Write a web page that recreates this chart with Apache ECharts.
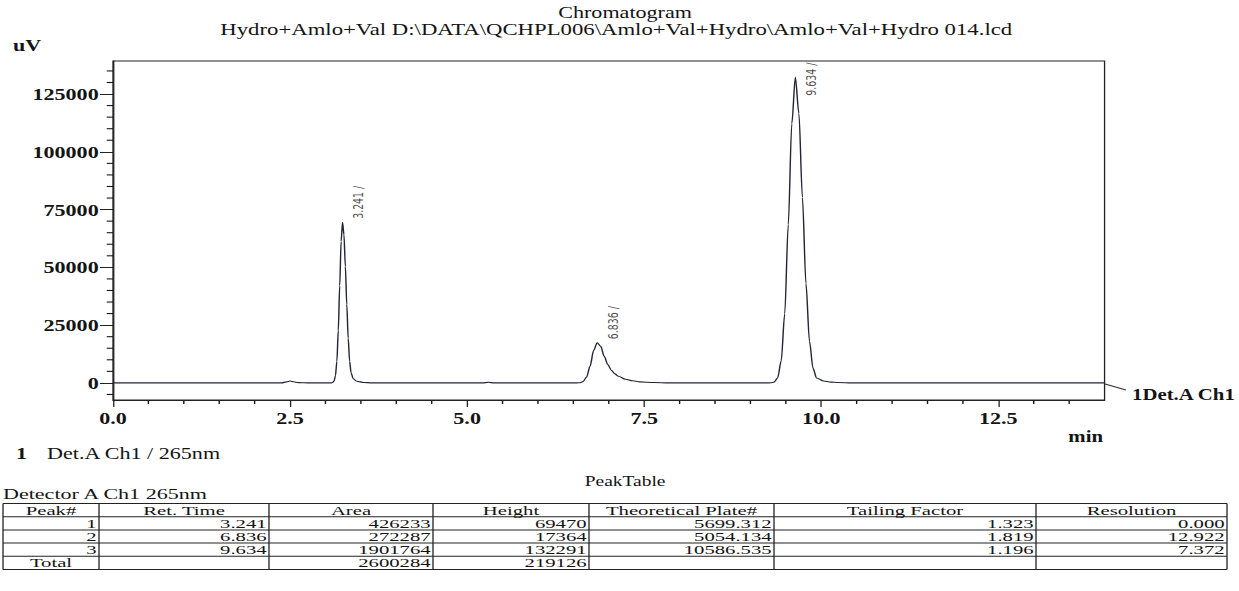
<!DOCTYPE html>
<html><head><meta charset="utf-8">
<script src="https://cdn.jsdelivr.net/npm/echarts@6/dist/echarts.min.js"></script>
<style>
html,body{margin:0;padding:0;background:#fff;overflow:hidden;width:1239px;height:591px;}
#chart{width:953px;height:591px;transform-origin:0 0;transform:scaleX(1.300105);}
</style></head><body><div id="chart"></div>
<script>
// ---------- texts ----------
const titleText = 'Chromatogram';
const subtitleText = 'Hydro+Amlo+Val D:\\DATA\\QCHPL006\\Amlo+Val+Hydro\\Amlo+Val+Hydro 014.lcd';
const yUnit = 'uV';
const xUnit = 'min';
const traceName = '1Det.A Ch1';
const legendNo = '1';
const legendText = 'Det.A Ch1 / 265nm';
const tableTitle = 'PeakTable';
const tableSubtitle = 'Detector A Ch1 265nm';

// ---------- axis ticks ----------
const xTickValues = [0, 2.5, 5, 7.5, 10, 12.5];
const xTickLabels = ['0.0', '2.5', '5.0', '7.5', '10.0', '12.5'];
const xMinorTicks = [0.5, 1, 1.5, 2, 3, 3.5, 4, 4.5, 5.5, 6, 6.5, 7, 8, 8.5, 9, 9.5, 10.5, 11, 11.5, 12, 13, 13.5];
const yTickValues = [0, 25000, 50000, 75000, 100000, 125000];
const yTickLabels = ['0', '25000', '50000', '75000', '100000', '125000'];
const yMinorTicks = [-5000, 5000, 10000, 15000, 20000, 30000, 35000, 40000, 45000, 55000, 60000, 65000, 70000, 80000, 85000, 90000, 95000, 105000, 110000, 115000, 120000, 130000, 135000];
const xMin = 0, xMax = 14, yMin = -7400, yMax = 139300;

// ---------- chromatogram trace ----------
const trace0Time = [0.0, 1.0, 2.0, 2.38, 2.45, 2.50, 2.55, 2.62, 2.75, 3.0];
const trace0UV   = [0, 0, 0, 0, 450, 800, 500, 100, 0, 0];
const peak1Time = [3.08, 3.101, 3.121, 3.141, 3.161, 3.181, 3.201, 3.221, 3.241, 3.261, 3.281, 3.301, 3.321, 3.341, 3.361, 3.391, 3.441, 3.54, 3.65];
const peak1UV   = [0, 150, 770, 3050, 9400, 22600, 42100, 61300, 69470, 64100, 50400, 33900, 19300, 9400, 4500, 1800, 700, 200, 0];
const trace1Time = [4.2, 5.0, 5.22, 5.3, 5.38, 6.0, 6.5];
const trace1UV   = [0, 0, 0, 250, 0, 0, 0];
const peak2Time = [6.55, 6.60, 6.636, 6.686, 6.736, 6.786, 6.836, 6.886, 6.936, 6.986, 7.036, 7.086, 7.136, 7.236, 7.336, 7.436, 7.636, 7.85];
const peak2UV   = [0, 80, 545, 2480, 7300, 13980, 17364, 15800, 11500, 7900, 5500, 3900, 2900, 1600, 900, 450, 150, 0];
const trace2Time = [8.3, 9.0, 9.2];
const trace2UV   = [0, 0, 0];
const peak3Time = [9.25, 9.284, 9.334, 9.384, 9.434, 9.484, 9.534, 9.584, 9.634, 9.684, 9.734, 9.784, 9.834, 9.884, 9.934, 10.034, 10.134, 10.234, 10.434];
const peak3UV   = [0, 40, 345, 2130, 9440, 29900, 68400, 112200, 132291, 116700, 80250, 42950, 17900, 6300, 2100, 800, 350, 150, 0];
const trace3Time = [11.0, 12.5, 14.0];
const trace3UV   = [0, 0, 0];

// ---------- peak table ----------
const tableHeaders = ['Peak#', 'Ret. Time', 'Area', 'Height', 'Theoretical Plate#', 'Tailing Factor', 'Resolution'];
const peakNo = ['1', '2', '3'];
const retTime = ['3.241', '6.836', '9.634'];
const area = ['426233', '272287', '1901764'];
const height = ['69470', '17364', '132291'];
const plates = ['5699.312', '5054.134', '10586.535'];
const tailing = ['1.323', '1.819', '1.196'];
const resolution = ['0.000', '12.922', '7.372'];
const totalLabel = 'Total';
const totalArea = '2600284';
const totalHeight = '219126';

// ---------- build ----------
const traceTime = [].concat(trace0Time, peak1Time, trace1Time, peak2Time, trace2Time, peak3Time, trace3Time);
const traceUV = [].concat(trace0UV, peak1UV, trace1UV, peak2UV, trace2UV, peak3UV, trace3UV);
const traceData = traceTime.map((t, i) => [t, traceUV[i]]);

const serif = "'Liberation Serif', 'Times New Roman', serif";
const narrow = "'Liberation Sans Narrow', 'DejaVu Sans Condensed', 'Liberation Sans', sans-serif";
const ink = '#141414';
const GRID = { left: 86.9, top: 61, width: 762.7, height: 339 };
const peakLabelSize = 10.5;

// peak labels: keep rotated label inside plot (as the instrument software does)
const measureCtx = document.createElement('canvas').getContext('2d');
measureCtx.font = peakLabelSize + 'px ' + narrow;
const yToPx = v => GRID.top + (yMax - v) / (yMax - yMin) * GRID.height;
const apexData = retTime.map((t, i) => {
  const h = parseFloat(height[i]);
  const txtLen = measureCtx.measureText(t + ' /').width;
  const apexY = yToPx(h);
  const anchorY = Math.max(apexY - 3, GRID.top + 2 + txtLen);
  return { value: [parseFloat(t), h], label: { position: [13, anchorY - apexY] } };
});

const chart = echarts.init(document.getElementById('chart'), null, { renderer: 'svg' });

function txt(text, x, y, opts) {
  opts = opts || {};
  const al = opts.align || 'left';
  return {
    type: 'text', silent: true,
    x: x, y: y, scaleX: opts.sx || 1, scaleY: 1,
    style: {
      text: text, x: 0, y: 0,
      fill: opts.color || ink,
      font: (opts.weight || 'normal') + ' ' + (opts.size || 16) + 'px ' + serif,
      align: al, verticalAlign: 'middle',
      textAlign: al, textVerticalAlign: 'middle'
    }
  };
}
function seg(x1, y1, x2, y2, color, w) {
  return { type: 'line', silent: true, shape: { x1: x1, y1: y1, x2: x2, y2: y2 }, style: { stroke: color || '#222', lineWidth: w || 1 } };
}

const graphics = [];
graphics.push(txt(titleText, 480.8, 12, { size: 17, align: 'center' }));
graphics.push(txt(subtitleText, 474, 29, { size: 17.5, align: 'center' }));
graphics.push(txt(yUnit, 10, 45, { size: 17, weight: 'bold' }));
graphics.push(seg(850, 384, 866, 390, '#333'));
graphics.push(txt(traceName, 870.7, 394, { size: 16, weight: 'bold' }));
graphics.push(txt(xUnit, 848.4, 436, { size: 16, weight: 'bold', align: 'right' }));
graphics.push(txt(legendNo, 12.3, 453, { size: 17, weight: 'bold' }));
graphics.push(txt(legendText, 36.2, 453, { size: 17 }));
graphics.push(txt(tableTitle, 480.8, 481, { size: 15, align: 'center' }));
graphics.push(txt(tableSubtitle, 2.3, 494, { size: 14.5, sx: 1.17 }));

// table
const S = 1.300105;
const colEdges = [3, 99, 269, 433, 589, 774, 1036, 1227].map(v => v / S);
const rowEdges = [503.5, 516.7, 529.9, 543.1, 556.3, 569.5];
rowEdges.forEach(y => graphics.push(seg(colEdges[0], y, colEdges[colEdges.length - 1], y)));
colEdges.forEach(x => graphics.push(seg(x, rowEdges[0], x, rowEdges[rowEdges.length - 1])));
const rowMid = i => (rowEdges[i] + rowEdges[i + 1]) / 2 - 0.2;
const cell = { size: 13.5, sx: 1.18 };
tableHeaders.forEach((h, c) => graphics.push(txt(h, (colEdges[c] + colEdges[c + 1]) / 2, rowMid(0), Object.assign({ align: 'center' }, cell))));
const cols = [peakNo, retTime, area, height, plates, tailing, resolution];
for (let r = 0; r < peakNo.length; r++) {
  cols.forEach((col, c) => graphics.push(txt(col[r], colEdges[c + 1] - 1.8, rowMid(r + 1), Object.assign({ align: 'right' }, cell))));
}
graphics.push(txt(totalLabel, (colEdges[0] + colEdges[1]) / 2, rowMid(4), Object.assign({ align: 'center' }, cell)));
graphics.push(txt(totalArea, colEdges[3] - 1.8, rowMid(4), Object.assign({ align: 'right' }, cell)));
graphics.push(txt(totalHeight, colEdges[4] - 1.8, rowMid(4), Object.assign({ align: 'right' }, cell)));

const axisLabelStyle = { fontFamily: serif, fontWeight: 'bold', fontSize: 17, color: ink };

const option = {
  backgroundColor: '#ffffff',
  animation: false,
  grid: Object.assign({ show: true, borderColor: '#222', borderWidth: 1, containLabel: false, outerBoundsMode: 'none' }, GRID),
  xAxis: {
    type: 'value', min: xMin, max: xMax, position: 'bottom',
    axisLine: { show: true, onZero: false, lineStyle: { color: '#222', width: 1 } },
    axisTick: { show: true, inside: false, length: 7, customValues: xTickValues, lineStyle: { color: '#222' } },
    axisLabel: Object.assign({ margin: 9, customValues: xTickValues, formatter: v => xTickLabels[xTickValues.indexOf(v)] }, axisLabelStyle),
    splitLine: { show: false }
  },
  yAxis: {
    type: 'value', min: yMin, max: yMax, position: 'left',
    axisLine: { show: true, onZero: false, lineStyle: { color: '#222', width: 1 } },
    axisTick: { show: true, inside: false, length: 10, customValues: yTickValues, lineStyle: { color: '#222' } },
    axisLabel: Object.assign({ margin: 11, customValues: yTickValues, formatter: v => yTickLabels[yTickValues.indexOf(v)] }, axisLabelStyle),
    splitLine: { show: false }
  },
  series: [
    {
      name: traceName, type: 'line',
      data: traceData, showSymbol: false, smooth: 0.3, smoothMonotone: 'x',
      lineStyle: { color: '#23233a', width: 1.1 }, silent: true, z: 3
    },
    {
      name: 'apex', type: 'scatter',
      data: apexData, symbolSize: 1, itemStyle: { color: 'rgba(0,0,0,0)' }, silent: true, z: 4,
      label: {
        show: true, rotate: 90, align: 'left', verticalAlign: 'middle',
        formatter: p => retTime[p.dataIndex] + ' /',
        fontFamily: narrow, fontSize: peakLabelSize, color: '#1e1e1e'
      }
    }
  ]
};
chart.setOption(option);

// minor ticks placed through the chart's own axis scales
xMinorTicks.forEach(v => {
  const p = chart.convertToPixel({ gridIndex: 0 }, [v, yMin]);
  graphics.push(seg(p[0], p[1], p[0], p[1] + 4, '#1a1a1a', 1.1));
});
yMinorTicks.forEach(v => {
  const p = chart.convertToPixel({ gridIndex: 0 }, [xMin, v]);
  graphics.push(seg(p[0], p[1], p[0] - 4.8, p[1], '#1a1a1a', 1.1));
});
chart.setOption({ graphic: graphics });
</script>
</body></html>
